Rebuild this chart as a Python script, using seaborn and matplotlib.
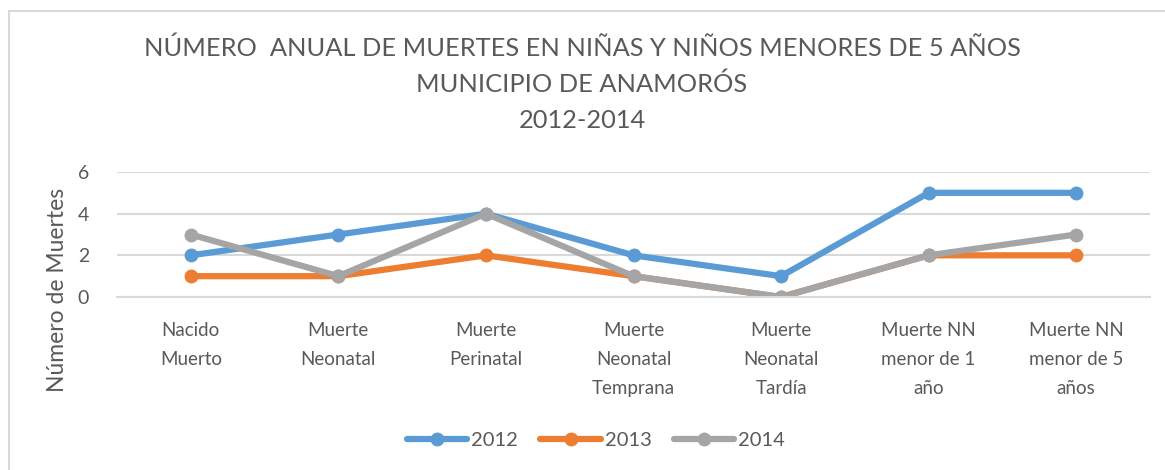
import numpy as np
import pandas as pd
import seaborn as sns
from matplotlib import pyplot as plt
from matplotlib.lines import Line2D

categorias = ['Nacido\nMuerto', 'Muerte\nNeonatal', 'Muerte\nPerinatal', 'Muerte\nNeonatal\nTemprana',
              'Muerte\nNeonatal\nTardía', 'Muerte NN\nmenor de 1\naño', 'Muerte NN\nmenor de 5\naños']
anios = ['2012', '2013', '2014']
muertes_2012 = [2, 3, 4, 2, 1, 5, 5]
muertes_2013 = [1, 1, 2, 1, 0, 2, 2]
muertes_2014 = [3, 1, 4, 1, 0, 2, 3]
colores = ['#5B9BD5', '#ED7D31', '#A5A5A5']
titulo = 'NÚMERO  ANUAL DE MUERTES EN NIÑAS Y NIÑOS MENORES DE 5 AÑOS\nMUNICIPIO DE ANAMORÓS\n2012-2014'

# long format for seaborn
df = pd.DataFrame({
    'Categoria': categorias * 3,
    'Anio': np.repeat(anios, len(categorias)),
    'Muertes': muertes_2012 + muertes_2013 + muertes_2014,
})

sns.set_theme(style='white')
plt.rcParams['font.family'] = ['Lato', 'DejaVu Sans']
gris = '#595959'

fig = plt.figure(figsize=(11.65, 4.70), dpi=100)
ax = fig.add_axes([117 / 1165, 1 - 297 / 470, (1150 - 117) / 1165, 125 / 470])

sns.lineplot(data=df, x='Categoria', y='Muertes', hue='Anio', palette=colores, ax=ax,
             marker='o', markersize=10, markeredgewidth=0, linewidth=4.5, sort=False, legend=False)

ax.set_xlim(-0.5, len(categorias) - 0.5)
ax.set_ylim(0, 6)
ax.set_yticks([0, 2, 4, 6])
ax.yaxis.grid(True, color='#d9d9d9', linewidth=1.5)
ax.set_axisbelow(True)
for s in ax.spines.values():
    s.set_visible(False)
ax.spines['bottom'].set_visible(True)
ax.spines['bottom'].set_color('#d9d9d9')
ax.spines['bottom'].set_linewidth(1.5)
ax.tick_params(axis='y', length=0, labelsize=14, labelcolor=gris, pad=20)
ax.tick_params(axis='x', length=0, labelsize=13.5, labelcolor=gris, pad=18)
ax.set_xticks(range(len(categorias)))
ax.set_xticklabels(categorias, linespacing=1.84, va='top')
ax.set_xlabel('')
ax.set_ylabel('')

fig.text(58 / 1165, 1 - 290 / 470, 'Número de Muertes', rotation=90, ha='center', va='center',
         fontsize=16.5, color=gris)
fig.text(582 / 1165, 1 - 84 / 470, titulo, ha='center', va='center', fontsize=18.3, color=gris,
         linespacing=1.67)

handles = [Line2D([], [], color=c, marker='o', markersize=10, markeredgewidth=0, linewidth=4.5) for c in colores]
fig.legend(handles, anios, loc='center', bbox_to_anchor=(596 / 1165, 1 - 440 / 470), ncol=3, frameon=False,
           fontsize=14.5, labelcolor=gris, handlelength=3.0, columnspacing=1.1, handletextpad=0.2)

# chart frame (top and left edges)
fig.add_artist(Line2D([9 / 1165, 9 / 1165, 1], [0, 1 - 11 / 470, 1 - 11 / 470], color='#d9d9d9', linewidth=1.5))

fig.savefig('out.png', dpi=100)
